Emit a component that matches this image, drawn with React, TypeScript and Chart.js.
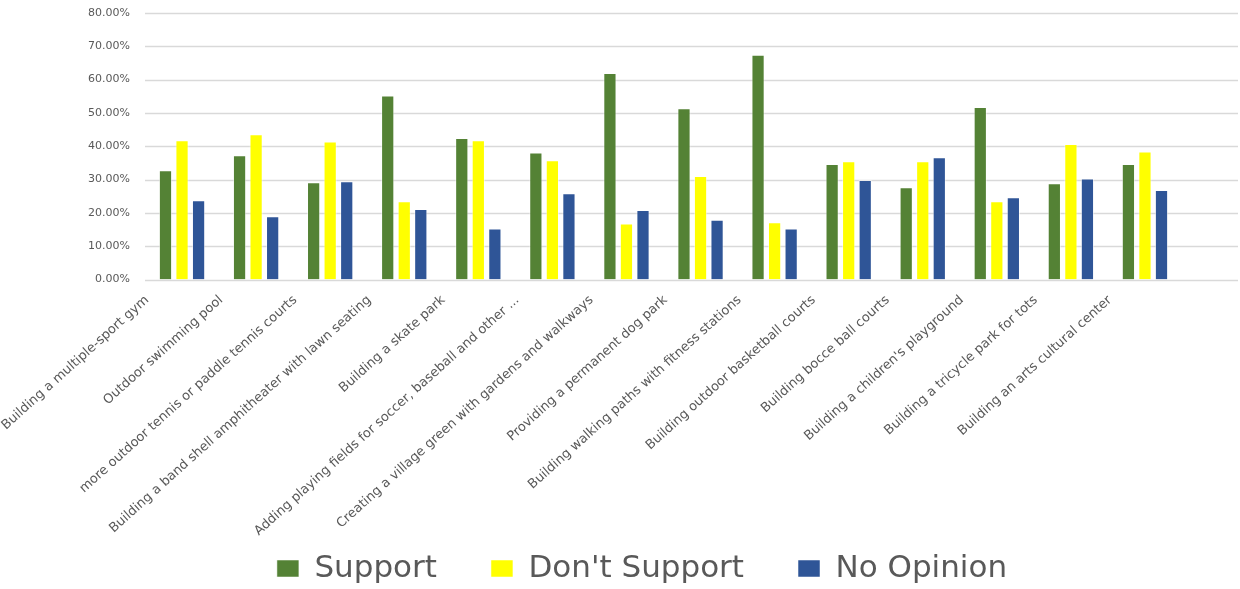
import React, { useEffect, useRef } from "react";
import { Chart, registerables } from "chart.js";

Chart.register(...registerables);

const categories = [
  "Building a multiple-sport gym",
  "Outdoor swimming pool",
  "more outdoor tennis or paddle tennis courts",
  "Building a band shell amphitheater with lawn seating",
  "Building a skate park",
  "Adding playing fields for soccer, baseball and other ...",
  "Creating a village green with gardens and walkways",
  "Providing a permanent dog park",
  "Building walking paths with fitness stations",
  "Building outdoor basketball courts",
  "Building bocce ball courts",
  "Building a children's playground",
  "Building a tricycle park for tots",
  "Building an arts cultural center",
];

const seriesNames = ["Support", "Don't Support", "No Opinion"];
const supportValues = [32.8, 37.3, 29.2, 55.2, 42.5, 38.1, 62.0, 51.4, 67.5, 34.7, 27.7, 51.8, 28.9, 34.7];
const dontSupportValues = [41.8, 43.6, 41.4, 23.5, 41.8, 35.8, 16.8, 31.1, 17.2, 35.5, 35.5, 23.5, 40.7, 38.4];
const noOpinionValues = [23.8, 19.0, 29.5, 21.2, 15.3, 25.9, 20.9, 17.9, 15.3, 29.9, 36.7, 24.7, 30.3, 26.9];
const yMin = 0;
const yMax = 80;
const yStep = 10;

const FONT = "'DejaVu Sans', sans-serif";
const TEXT = "#595959";

const gridPlugin = {
  id: "extGrid",
  beforeDraw(chart: any) {
    const x = chart.scales.x;
    if (x) x._computeLabelArea = () => undefined;
  },
  beforeDatasetsDraw(chart: any) {
    const { ctx, chartArea, scales } = chart;
    const y = scales.y;
    ctx.save();
    ctx.strokeStyle = "#d9d9d9";
    ctx.lineWidth = 1.5;
    y.ticks.forEach((t: any) => {
      const py = Math.round(y.getPixelForValue(t.value)) + 0.5;
      ctx.beginPath();
      ctx.moveTo(chartArea.left, py);
      ctx.lineTo(chart.width - 2, py);
      ctx.stroke();
    });
    ctx.restore();
  },
};

export default function App() {
  const ref = useRef<HTMLCanvasElement | null>(null);

  useEffect(() => {
    if (!ref.current) return;
    const chart = new Chart(ref.current, {
      type: "bar",
      data: {
        labels: categories,
        datasets: [
          { label: seriesNames[0], data: supportValues, backgroundColor: "#548235", borderColor: "rgba(255,255,255,0.5)", borderWidth: 1, yAxisID: "y" },
          { label: seriesNames[1], data: dontSupportValues, backgroundColor: "#FFFF00", borderColor: "rgba(255,255,255,0.5)", borderWidth: 1, yAxisID: "y" },
          { label: seriesNames[2], data: noOpinionValues, backgroundColor: "#2F5597", borderColor: "rgba(255,255,255,0.5)", borderWidth: 1, yAxisID: "y" },
        ],
      },
      options: {
        animation: false,
        responsive: true,
        maintainAspectRatio: false,
        datasets: { bar: { categoryPercentage: 0.67, barPercentage: 0.8 } },
        layout: { padding: { top: 0, right: 0, left: 44, bottom: -5 } },
        plugins: {
          legend: {
            position: "bottom",
            labels: {
              color: TEXT,
              font: { family: FONT, size: 31 },
              boxWidth: 22,
              boxHeight: 17,
              padding: 54,
            },
          },
          tooltip: { enabled: false },
        },
        scales: {
          x: {
            grid: { display: false, drawTicks: false },
            border: { display: false },
            ticks: {
              color: TEXT,
              font: { family: FONT, size: 13 },
              autoSkip: false,
              minRotation: 42,
              maxRotation: 42,
              padding: 13,
              labelOffset: -35,
            },
            afterFit(scale: any) {
              scale.height = 219.5;
            },
          },
          y: {
            min: yMin,
            max: yMax,
            grid: { display: false, drawTicks: false },
            border: { display: false },
            ticks: {
              stepSize: yStep,
              color: TEXT,
              font: { family: FONT, size: 11 },
              padding: 15,
              callback: (v: any) => Number(v).toFixed(2) + "%",
            },
            afterFit(scale: any) {
              scale.width = 101;
              scale.paddingTop = 13;
              scale.paddingBottom = 0;
            },
          },
          y2: {
            position: "right",
            min: yMin,
            max: yMax,
            grid: { display: false, drawTicks: false },
            border: { display: false },
            ticks: { display: false },
            afterFit(scale: any) {
              scale.width = 58;
              scale.paddingTop = 0;
              scale.paddingBottom = 0;
            },
          },
        },
      },
      plugins: [gridPlugin],
    });
    return () => chart.destroy();
  }, []);

  return (
    <div style={{ position: "absolute", left: 0, top: 0, width: 1240, height: 589, background: "#fff" }}>
      <canvas ref={ref} />
    </div>
  );
}
